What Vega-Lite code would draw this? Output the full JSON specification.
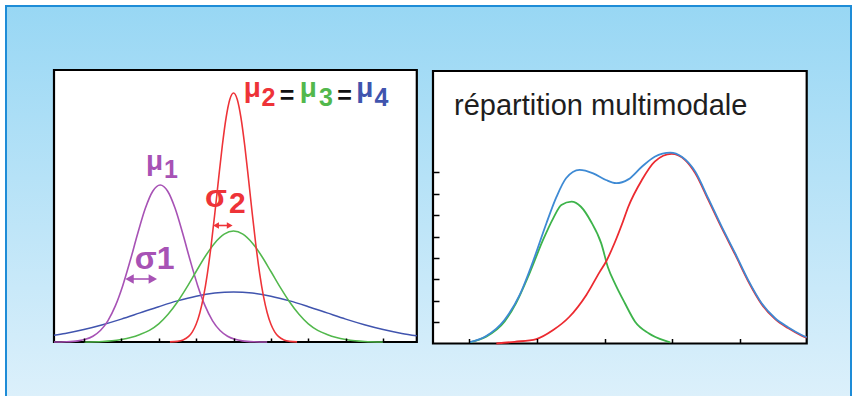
{
  "$schema": "https://vega.github.io/schema/vega-lite/v6.json",
  "width": 845,
  "height": 392,
  "padding": {"left": 6, "top": 6, "right": 3, "bottom": 0},
  "autosize": {"type": "none"},
  "background": "white",
  "config": {
    "font": "Liberation Sans",
    "view": {
      "fill": {"gradient": "linear", "x1": 0, "y1": 0, "x2": 0, "y2": 1, "stops": [{"offset": 0, "color": "#98d7f4"}, {"offset": 1, "color": "#dcf0fb"}]},
      "stroke": "#1e8cd7",
      "strokeWidth": 2
    }
  },
  "datasets": {
    "leftFrame": [{"x": -4.8, "x2": 4.9, "y": 0, "y2": 272}],
    "rightFrame": [{"x": -0.536, "x2": 4.986, "y": 0, "y2": 12.734}],
    "leftCurves": [
      {"s": "b", "x": -4.8, "y": 6.8}, {"s": "b", "x": -4.5, "y": 8.6}, {"s": "b", "x": -4, "y": 12.5}, {"s": "b", "x": -3.5, "y": 17.3}, {"s": "b", "x": -3, "y": 22.9}, {"s": "b", "x": -2.5, "y": 29.1}, {"s": "b", "x": -2, "y": 35.3}, {"s": "b", "x": -1.5, "y": 41.1}, {"s": "b", "x": -1, "y": 45.8}, {"s": "b", "x": -0.5, "y": 48.9}, {"s": "b", "x": 0, "y": 50}, {"s": "b", "x": 0.5, "y": 48.9}, {"s": "b", "x": 1, "y": 45.8}, {"s": "b", "x": 1.5, "y": 41.1}, {"s": "b", "x": 2, "y": 35.3}, {"s": "b", "x": 2.5, "y": 29.1}, {"s": "b", "x": 3, "y": 22.9}, {"s": "b", "x": 3.5, "y": 17.3}, {"s": "b", "x": 4, "y": 12.5}, {"s": "b", "x": 4.5, "y": 8.6}, {"s": "b", "x": 4.9, "y": 6.2},
      {"s": "p", "x": -4.8, "y": 0.04}, {"s": "p", "x": -4.46, "y": 0.27}, {"s": "p", "x": -4.16, "y": 1.1}, {"s": "p", "x": -3.96, "y": 2.65}, {"s": "p", "x": -3.76, "y": 5.8}, {"s": "p", "x": -3.56, "y": 11.5}, {"s": "p", "x": -3.36, "y": 21.2}, {"s": "p", "x": -3.16, "y": 36.1}, {"s": "p", "x": -2.96, "y": 56.6}, {"s": "p", "x": -2.76, "y": 81.7}, {"s": "p", "x": -2.56, "y": 108.7}, {"s": "p", "x": -2.36, "y": 133.4}, {"s": "p", "x": -2.16, "y": 150.7}, {"s": "p", "x": -1.96, "y": 157}, {"s": "p", "x": -1.76, "y": 150.7}, {"s": "p", "x": -1.56, "y": 133.4}, {"s": "p", "x": -1.36, "y": 108.7}, {"s": "p", "x": -1.16, "y": 81.7}, {"s": "p", "x": -0.96, "y": 56.6}, {"s": "p", "x": -0.76, "y": 36.1}, {"s": "p", "x": -0.56, "y": 21.2}, {"s": "p", "x": -0.36, "y": 11.5}, {"s": "p", "x": -0.16, "y": 5.8}, {"s": "p", "x": 0.04, "y": 2.65}, {"s": "p", "x": 0.24, "y": 1.1}, {"s": "p", "x": 0.54, "y": 0.27}, {"s": "p", "x": 0.9, "y": 0.02},
      {"s": "g", "x": -4, "y": 0.1}, {"s": "g", "x": -3.5, "y": 0.6}, {"s": "g", "x": -3.25, "y": 1.3}, {"s": "g", "x": -3, "y": 2.6}, {"s": "g", "x": -2.75, "y": 4.5}, {"s": "g", "x": -2.5, "y": 7.5}, {"s": "g", "x": -2.25, "y": 11.6}, {"s": "g", "x": -2, "y": 18.1}, {"s": "g", "x": -1.75, "y": 27.7}, {"s": "g", "x": -1.5, "y": 40}, {"s": "g", "x": -1.25, "y": 54.6}, {"s": "g", "x": -1, "y": 70.5}, {"s": "g", "x": -0.75, "y": 86}, {"s": "g", "x": -0.5, "y": 99.1}, {"s": "g", "x": -0.25, "y": 107.9}, {"s": "g", "x": 0, "y": 111}, {"s": "g", "x": 0.25, "y": 107.9}, {"s": "g", "x": 0.5, "y": 99.1}, {"s": "g", "x": 0.75, "y": 86}, {"s": "g", "x": 1, "y": 70.5}, {"s": "g", "x": 1.25, "y": 54.6}, {"s": "g", "x": 1.5, "y": 40}, {"s": "g", "x": 1.75, "y": 27.7}, {"s": "g", "x": 2, "y": 18.1}, {"s": "g", "x": 2.25, "y": 11.6}, {"s": "g", "x": 2.5, "y": 7.5}, {"s": "g", "x": 2.75, "y": 4.5}, {"s": "g", "x": 3, "y": 2.6}, {"s": "g", "x": 3.25, "y": 1.3}, {"s": "g", "x": 3.5, "y": 0.6}, {"s": "g", "x": 4, "y": 0.1},
      {"s": "r", "x": -1.7, "y": 0.12}, {"s": "r", "x": -1.5, "y": 0.65}, {"s": "r", "x": -1.35, "y": 2}, {"s": "r", "x": -1.2, "y": 5.6}, {"s": "r", "x": -1.1, "y": 10.2}, {"s": "r", "x": -1, "y": 17.7}, {"s": "r", "x": -0.9, "y": 29.3}, {"s": "r", "x": -0.8, "y": 45.9}, {"s": "r", "x": -0.7, "y": 68.2}, {"s": "r", "x": -0.6, "y": 96.2}, {"s": "r", "x": -0.5, "y": 128.6}, {"s": "r", "x": -0.4, "y": 163.2}, {"s": "r", "x": -0.3, "y": 196.3}, {"s": "r", "x": -0.2, "y": 224}, {"s": "r", "x": -0.1, "y": 242.5}, {"s": "r", "x": 0, "y": 249}, {"s": "r", "x": 0.1, "y": 242.5}, {"s": "r", "x": 0.2, "y": 224}, {"s": "r", "x": 0.3, "y": 196.3}, {"s": "r", "x": 0.4, "y": 163.2}, {"s": "r", "x": 0.5, "y": 128.6}, {"s": "r", "x": 0.6, "y": 96.2}, {"s": "r", "x": 0.7, "y": 68.2}, {"s": "r", "x": 0.8, "y": 45.9}, {"s": "r", "x": 0.9, "y": 29.3}, {"s": "r", "x": 1, "y": 17.7}, {"s": "r", "x": 1.1, "y": 10.2}, {"s": "r", "x": 1.2, "y": 5.6}, {"s": "r", "x": 1.35, "y": 2}, {"s": "r", "x": 1.5, "y": 0.65}, {"s": "r", "x": 1.7, "y": 0.12}
    ],
    "arrows": [
      {"s": "p", "x": -2.781, "x2": -2.158, "y": 63},
      {"s": "r", "x": -0.468, "x2": -0.102, "y": 116.5}
    ],
    "arrowHeads": [
      {"s": "p", "d": "L", "x": -2.781, "y": 63},
      {"s": "p", "d": "R", "x": -2.158, "y": 63},
      {"s": "r", "d": "L", "x": -0.468, "y": 116.5},
      {"s": "r", "d": "R", "x": -0.102, "y": 116.5}
    ],
    "muText": [
      {"s": "p", "t": "μ", "x": -2.34, "y": 172.1},
      {"s": "r", "t": "μ", "x": 0.273, "y": 244.8},
      {"s": "g", "t": "μ", "x": 1.77, "y": 244.8},
      {"s": "b", "t": "μ", "x": 3.283, "y": 244.8}
    ],
    "digitText": [
      {"s": "p", "t": "1", "x": -1.857, "y": 163.7},
      {"s": "r", "t": "2", "x": 0.751, "y": 236},
      {"s": "k", "t": "=", "x": 1.238, "y": 238.3},
      {"s": "g", "t": "3", "x": 2.286, "y": 236},
      {"s": "k", "t": "=", "x": 2.77, "y": 238.3},
      {"s": "b", "t": "4", "x": 3.77, "y": 236}
    ],
    "sigmaText": [
      {"s": "p", "t": "σ1", "x": -2.64, "y": 72.7},
      {"s": "r", "t": "σ", "x": -0.765, "y": 135.3}
    ],
    "sigmaIndex": [
      {"s": "r", "t": "2", "x": -0.12, "y": 128.7}
    ],
    "rightCurves": [
      {"s": "g", "x": 0, "y": 0.05}, {"s": "g", "x": 0.25, "y": 0.32}, {"s": "g", "x": 0.52, "y": 1.02}, {"s": "g", "x": 0.69, "y": 1.88}, {"s": "g", "x": 0.89, "y": 3.28}, {"s": "g", "x": 1.09, "y": 4.84}, {"s": "g", "x": 1.24, "y": 5.85}, {"s": "g", "x": 1.36, "y": 6.47}, {"s": "g", "x": 1.51, "y": 6.63}, {"s": "g", "x": 1.65, "y": 6.39}, {"s": "g", "x": 1.8, "y": 5.69}, {"s": "g", "x": 1.95, "y": 4.68}, {"s": "g", "x": 2.05, "y": 3.55}, {"s": "g", "x": 2.16, "y": 2.75}, {"s": "g", "x": 2.3, "y": 1.88}, {"s": "g", "x": 2.45, "y": 1.02}, {"s": "g", "x": 2.65, "y": 0.48}, {"s": "g", "x": 2.89, "y": 0.13}, {"s": "g", "x": 2.97, "y": 0.05},
      {"s": "r", "x": 0.4, "y": 0}, {"s": "r", "x": 0.67, "y": 0.08}, {"s": "r", "x": 0.99, "y": 0.21}, {"s": "r", "x": 1.24, "y": 0.63}, {"s": "r", "x": 1.48, "y": 1.25}, {"s": "r", "x": 1.73, "y": 2.27}, {"s": "r", "x": 1.93, "y": 3.36}, {"s": "r", "x": 2.02, "y": 3.82}, {"s": "r", "x": 2.15, "y": 4.72}, {"s": "r", "x": 2.27, "y": 5.69}, {"s": "r", "x": 2.35, "y": 6.39}, {"s": "r", "x": 2.55, "y": 7.64}, {"s": "r", "x": 2.74, "y": 8.5}, {"s": "r", "x": 2.99, "y": 8.86}, {"s": "r", "x": 3.19, "y": 8.57}, {"s": "r", "x": 3.34, "y": 7.95}, {"s": "r", "x": 3.53, "y": 6.72}, {"s": "r", "x": 3.73, "y": 5.4}, {"s": "r", "x": 3.93, "y": 4.15}, {"s": "r", "x": 4.12, "y": 2.92}, {"s": "r", "x": 4.32, "y": 1.84}, {"s": "r", "x": 4.52, "y": 1.14}, {"s": "r", "x": 4.71, "y": 0.72}, {"s": "r", "x": 4.91, "y": 0.37}, {"s": "r", "x": 4.986, "y": 0.27},
      {"s": "b", "x": 0, "y": 0.05}, {"s": "b", "x": 0.25, "y": 0.35}, {"s": "b", "x": 0.52, "y": 1.1}, {"s": "b", "x": 0.745, "y": 2.27}, {"s": "b", "x": 0.94, "y": 3.82}, {"s": "b", "x": 1.14, "y": 5.62}, {"s": "b", "x": 1.29, "y": 6.86}, {"s": "b", "x": 1.43, "y": 7.72}, {"s": "b", "x": 1.63, "y": 8.11}, {"s": "b", "x": 1.83, "y": 7.95}, {"s": "b", "x": 2.02, "y": 7.64}, {"s": "b", "x": 2.17, "y": 7.49}, {"s": "b", "x": 2.35, "y": 7.67}, {"s": "b", "x": 2.55, "y": 8.26}, {"s": "b", "x": 2.74, "y": 8.73}, {"s": "b", "x": 2.97, "y": 8.92}, {"s": "b", "x": 3.14, "y": 8.73}, {"s": "b", "x": 3.34, "y": 8.03}, {"s": "b", "x": 3.53, "y": 6.79}, {"s": "b", "x": 3.73, "y": 5.46}, {"s": "b", "x": 3.93, "y": 4.21}, {"s": "b", "x": 4.12, "y": 2.97}, {"s": "b", "x": 4.32, "y": 1.88}, {"s": "b", "x": 4.52, "y": 1.18}, {"s": "b", "x": 4.71, "y": 0.76}, {"s": "b", "x": 4.91, "y": 0.4}, {"s": "b", "x": 4.986, "y": 0.29}
    ],
    "rightText": [{"t": "répartition multimodale", "x": -0.225, "y": 10.68}]
  },
  "layer": [
    {
      "encoding": {
        "x": {"field": "x", "type": "quantitative", "scale": {"domain": [-4.8, 4.9], "range": [48, 410.8], "nice": false, "zero": false},
          "axis": {"orient": "bottom", "offset": -56, "values": [-4, -3, -2, -1, 0, 1, 2, 3, 4], "labels": false, "domain": false, "grid": false, "ticks": true, "tickSize": -4, "tickWidth": 1.5, "tickColor": "#000000", "title": null, "zindex": 1}},
        "y": {"field": "y", "type": "quantitative", "scale": {"domain": [0, 272], "range": [336, 64], "nice": false, "zero": false}, "axis": null}
      },
      "layer": [
        {
          "data": {"name": "leftFrame"},
          "mark": {"type": "rect", "fill": "white", "stroke": "black", "strokeWidth": 2.2},
          "encoding": {"x2": {"field": "x2"}, "y2": {"field": "y2"}}
        },
        {
          "data": {"name": "leftCurves"},
          "mark": {"type": "line", "interpolate": "monotone"},
          "encoding": {
            "color": {"field": "s", "type": "nominal", "scale": {"domain": ["p", "r", "g", "b", "k"], "range": ["#a752b5", "#ee3338", "#52b84c", "#4054ae", "#111111"]}, "legend": null},
            "strokeWidth": {"field": "s", "type": "nominal", "scale": {"domain": ["p", "r", "g", "b"], "range": [1.6, 1.5, 1.7, 2.2]}, "legend": null},
            "order": {"field": "x", "type": "quantitative"}
          }
        },
        {
          "data": {"name": "arrows"},
          "mark": {"type": "rule"},
          "encoding": {
            "x2": {"field": "x2"},
            "color": {"field": "s", "type": "nominal", "scale": {"domain": ["p", "r", "g", "b", "k"], "range": ["#a752b5", "#ee3338", "#52b84c", "#4054ae", "#111111"]}, "legend": null},
            "strokeWidth": {"field": "s", "type": "nominal", "scale": {"domain": ["p", "r"], "range": [3, 2.2]}, "legend": null}
          }
        },
        {
          "data": {"name": "arrowHeads"},
          "mark": {"type": "point", "filled": true, "opacity": 1},
          "encoding": {
            "shape": {"field": "d", "type": "nominal", "scale": {"domain": ["L", "R"], "range": ["triangle-left", "triangle-right"]}, "legend": null},
            "size": {"field": "s", "type": "nominal", "scale": {"domain": ["p", "r"], "range": [95, 45]}, "legend": null},
            "color": {"field": "s", "type": "nominal", "scale": {"domain": ["p", "r", "g", "b", "k"], "range": ["#a752b5", "#ee3338", "#52b84c", "#4054ae", "#111111"]}, "legend": null}
          }
        },
        {
          "data": {"name": "muText"},
          "mark": {"type": "text", "align": "left", "baseline": "alphabetic", "fontSize": 28, "fontWeight": "bold", "font": "Liberation Sans"},
          "encoding": {
            "text": {"field": "t"},
            "color": {"field": "s", "type": "nominal", "scale": {"domain": ["p", "r", "g", "b", "k"], "range": ["#a752b5", "#ee3338", "#52b84c", "#4054ae", "#111111"]}, "legend": null}
          }
        },
        {
          "data": {"name": "digitText"},
          "mark": {"type": "text", "align": "left", "baseline": "alphabetic", "fontSize": 25, "fontWeight": "bold", "font": "Liberation Sans"},
          "encoding": {
            "text": {"field": "t"},
            "color": {"field": "s", "type": "nominal", "scale": {"domain": ["p", "r", "g", "b", "k"], "range": ["#a752b5", "#ee3338", "#52b84c", "#4054ae", "#111111"]}, "legend": null}
          }
        },
        {
          "data": {"name": "sigmaText"},
          "mark": {"type": "text", "align": "left", "baseline": "alphabetic", "fontSize": 32, "fontWeight": "bold", "font": "Liberation Sans"},
          "encoding": {
            "text": {"field": "t"},
            "color": {"field": "s", "type": "nominal", "scale": {"domain": ["p", "r", "g", "b", "k"], "range": ["#a752b5", "#ee3338", "#52b84c", "#4054ae", "#111111"]}, "legend": null}
          }
        },
        {
          "data": {"name": "sigmaIndex"},
          "mark": {"type": "text", "align": "left", "baseline": "alphabetic", "fontSize": 30, "fontWeight": "bold", "font": "Liberation Sans"},
          "encoding": {
            "text": {"field": "t"},
            "color": {"field": "s", "type": "nominal", "scale": {"domain": ["p", "r", "g", "b", "k"], "range": ["#a752b5", "#ee3338", "#52b84c", "#4054ae", "#111111"]}, "legend": null}
          }
        }
      ]
    },
    {
      "encoding": {
        "x": {"field": "x", "type": "quantitative", "scale": {"domain": [-0.536, 4.986], "range": [427, 800.7], "nice": false, "zero": false},
          "axis": {"orient": "bottom", "offset": -54.5, "values": [0, 1, 2, 3, 4], "labels": false, "domain": false, "grid": false, "ticks": true, "tickSize": -5, "tickWidth": 1.5, "tickColor": "#000000", "title": null, "zindex": 1}},
        "y": {"field": "y", "type": "quantitative", "scale": {"domain": [0, 12.734], "range": [337.5, 65], "nice": false, "zero": false},
          "axis": {"orient": "left", "offset": -427, "values": [1, 2, 3, 4, 5, 6, 7, 8], "labels": false, "domain": false, "grid": false, "ticks": true, "tickSize": -6, "tickWidth": 1.5, "tickColor": "#000000", "title": null, "zindex": 1}}
      },
      "layer": [
        {
          "data": {"name": "rightFrame"},
          "mark": {"type": "rect", "fill": "white", "stroke": "black", "strokeWidth": 2.2},
          "encoding": {"x2": {"field": "x2"}, "y2": {"field": "y2"}}
        },
        {
          "data": {"name": "rightCurves"},
          "mark": {"type": "line", "interpolate": "monotone", "strokeWidth": 1.8},
          "encoding": {
            "color": {"field": "s", "type": "nominal", "scale": {"domain": ["g", "r", "b"], "range": ["#3db34a", "#ec2a30", "#3e8ad4"]}, "legend": null},
            "order": {"field": "x", "type": "quantitative"}
          }
        },
        {
          "data": {"name": "rightText"},
          "mark": {"type": "text", "align": "left", "baseline": "alphabetic", "fontSize": 29, "font": "Liberation Sans", "color": "#1e1e1e"},
          "encoding": {"text": {"field": "t"}}
        }
      ]
    }
  ],
  "resolve": {"scale": {"x": "independent", "y": "independent", "color": "independent"}}
}
